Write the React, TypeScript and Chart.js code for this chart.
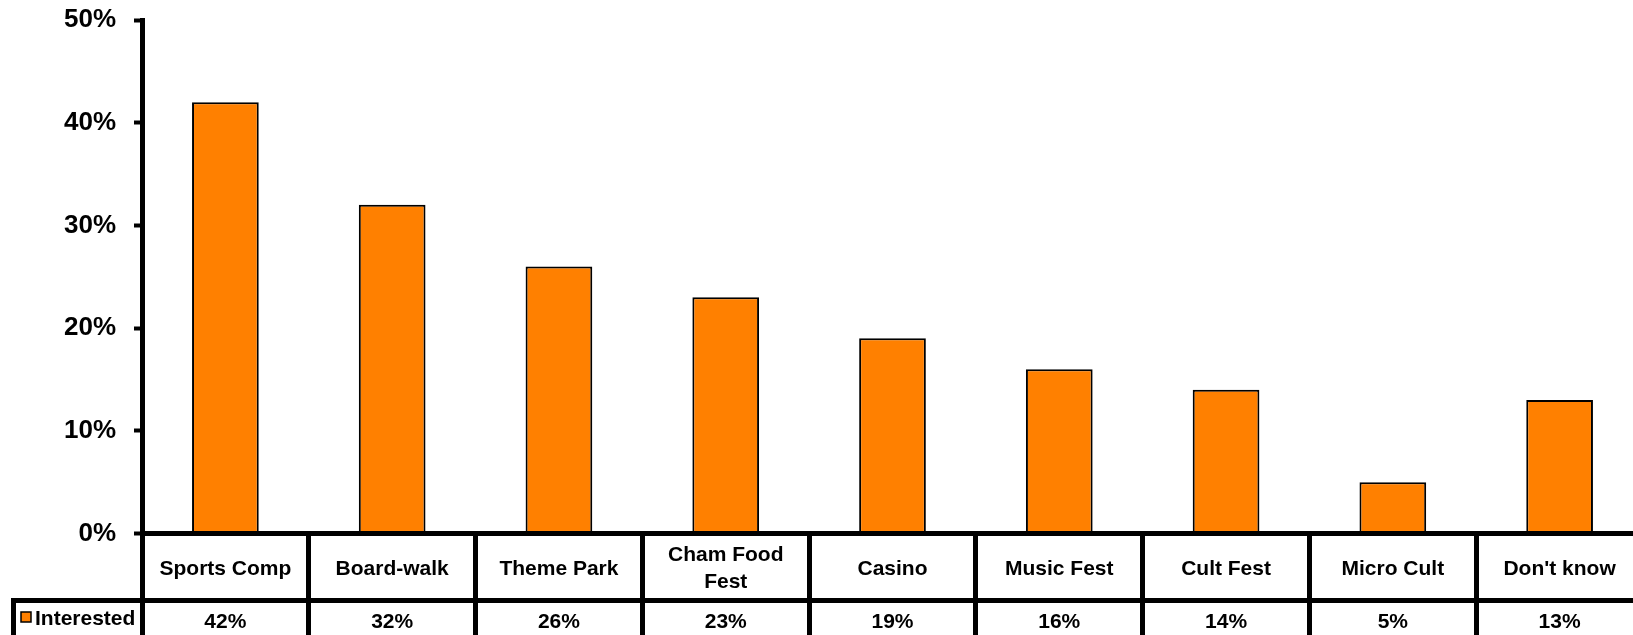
import React, { useEffect, useRef } from 'react';
import { Chart, registerables } from 'chart.js';

Chart.register(...registerables);

// ---- data ----
const categories: (string | string[])[] = [
  'Sports Comp',
  'Board-walk',
  'Theme Park',
  ['Cham Food', 'Fest'],
  'Casino',
  'Music Fest',
  'Cult Fest',
  'Micro Cult',
  "Don't know",
];
const seriesName = 'Interested';
const interested = [42, 32, 26, 23, 19, 16, 14, 5, 13];
const yMin = 0;
const yMax = 50;
const yStep = 10;

// ---- style ----
const FONT = "'Liberation Sans', Arial, Helvetica, sans-serif";
const ORANGE = '#FF8000';
const W = 1643;
const H = 645;
const LINE = 5;

const align = (v: number, w: number) => Math.round(v - w / 2) + w / 2;

const tablePlugin = {
  id: 'dataTable',
  afterDraw(chart: any) {
    const ctx = chart.ctx as CanvasRenderingContext2D;
    const area = chart.chartArea;
    const xs = chart.scales.x;
    const labels = chart.data.labels as (string | string[])[];
    const values = chart.data.datasets[0].data as number[];
    const n = labels.length;
    const step = n > 1 ? xs.getPixelForValue(1) - xs.getPixelForValue(0) : area.right - area.left;
    const rowTop = area.bottom;
    const row2Top = align(600, LINE);
    const bottom = chart.height;
    const legendLeft = align(13.5, LINE);

    ctx.save();
    ctx.strokeStyle = '#000';
    ctx.lineWidth = LINE;
    ctx.lineCap = 'butt';
    ctx.beginPath();
    ctx.moveTo(area.left, align(rowTop, LINE));
    ctx.lineTo(chart.width, align(rowTop, LINE));
    ctx.moveTo(legendLeft - LINE / 2, row2Top);
    ctx.lineTo(chart.width, row2Top);
    ctx.moveTo(legendLeft, row2Top - LINE / 2);
    ctx.lineTo(legendLeft, bottom);
    for (let i = 0; i <= n; i++) {
      const bx = i < n ? xs.getPixelForValue(i) - step / 2 : xs.getPixelForValue(n - 1) + step / 2;
      const ax = align(bx, LINE);
      ctx.moveTo(ax, align(rowTop, LINE) - LINE / 2);
      ctx.lineTo(ax, bottom);
    }
    ctx.stroke();

    ctx.fillStyle = '#000';
    ctx.textAlign = 'center';
    ctx.textBaseline = 'middle';
    ctx.font = `bold 21px ${FONT}`;
    const catMid = 569;
    const lh = 27;
    for (let i = 0; i < n; i++) {
      const cx = xs.getPixelForValue(i);
      const lines = Array.isArray(labels[i]) ? (labels[i] as string[]) : [labels[i] as string];
      const start = catMid - ((lines.length - 1) * lh) / 2;
      lines.forEach((t, k) => ctx.fillText(t, cx, start + k * lh));
      ctx.fillText(`${values[i]}%`, cx, 622);
    }

    ctx.textAlign = 'left';
    ctx.fillText(seriesName, 35, 619);
    ctx.fillStyle = ORANGE;
    ctx.fillRect(21, 612, 10, 10);
    ctx.lineWidth = 1.5;
    ctx.strokeStyle = '#000';
    ctx.strokeRect(21, 612, 10, 10);
    ctx.restore();
  },
};

export default function App() {
  const ref = useRef<HTMLCanvasElement | null>(null);

  useEffect(() => {
    if (!ref.current) return;
    const chart = new Chart(ref.current, {
      type: 'bar',
      data: {
        labels: categories,
        datasets: [
          {
            label: seriesName,
            data: interested,
            backgroundColor: ORANGE,
            borderColor: '#000',
            borderWidth: 2,
            borderSkipped: 'start',
            categoryPercentage: 1,
            barPercentage: 0.4,
          },
        ],
      },
      options: {
        responsive: false,
        animation: false,
        devicePixelRatio: 1,
        layout: { padding: { top: 20, left: 0, right: 0, bottom: 0 } },
        plugins: {
          legend: { display: false },
          tooltip: { enabled: false },
        },
        scales: {
          x: {
            type: 'category',
            offset: true,
            grid: { display: false },
            border: { display: true, color: '#000', width: LINE },
            ticks: { display: false },
            afterFit: (s: any) => {
              s.height = H - 533.5;
              s.paddingLeft = 0;
              s.paddingRight = 0;
            },
          },
          y: {
            min: yMin,
            max: yMax,
            grid: {
              drawOnChartArea: false,
              drawTicks: true,
              tickLength: 8,
              tickWidth: 4,
              tickColor: '#000',
              color: '#000',
            },
            border: { display: true, color: '#000', width: LINE },
            ticks: {
              stepSize: yStep,
              padding: 18,
              color: '#000',
              font: { family: FONT, size: 26, weight: 'bold' },
              callback: (v: any) => `${v}%`,
            },
            afterFit: (s: any) => {
              s.width = 142;
              s.paddingTop = 0;
              s.paddingBottom = 0;
            },
          },
        },
      },
      plugins: [tablePlugin],
    } as any);
    return () => chart.destroy();
  }, []);

  return (
    <div
      style={{
        position: 'fixed',
        left: 0,
        top: 0,
        width: 1633,
        height: 635,
        overflow: 'hidden',
        background: '#fff',
      }}
    >
      <canvas ref={ref} width={W} height={H} style={{ width: W, height: H, display: 'block' }} />
    </div>
  );
}
